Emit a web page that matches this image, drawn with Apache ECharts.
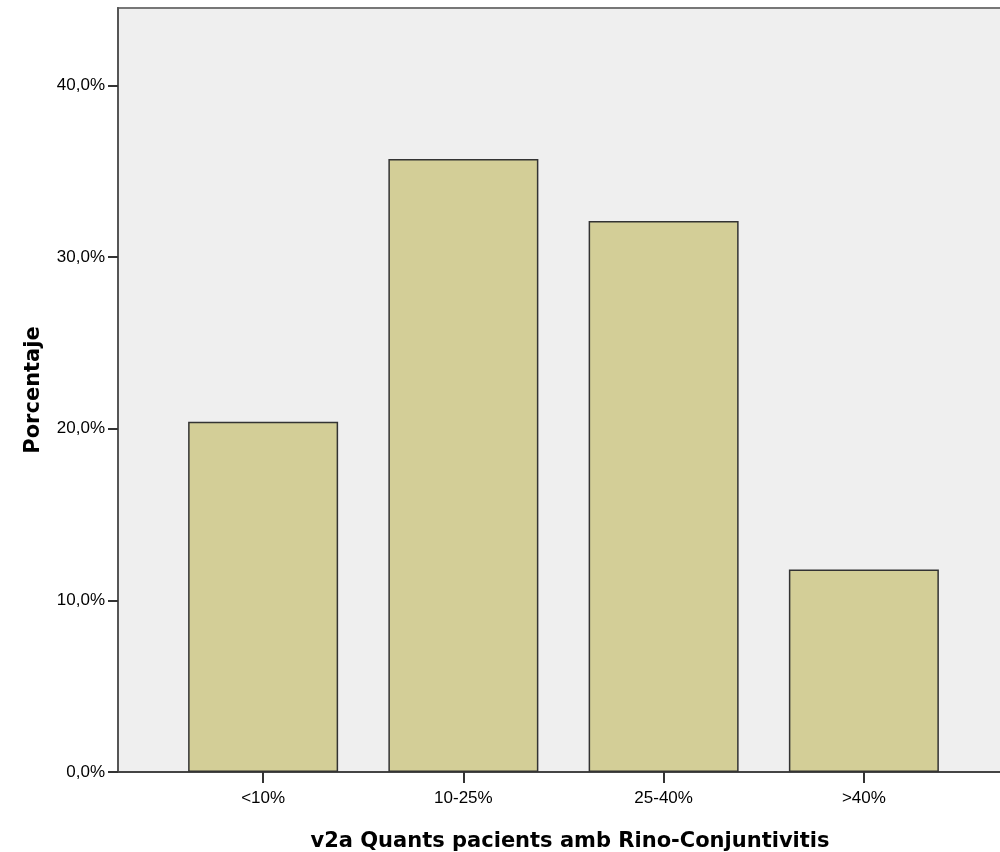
<!DOCTYPE html>
<html>
<head>
<meta charset="utf-8">
<script src="https://cdn.jsdelivr.net/npm/echarts@6/dist/echarts.min.js"></script>
<style>html,body{margin:0;padding:0;background:#fff;}#c{width:1000px;height:852px;}</style>
</head>
<body>
<div id="c"></div>
<script>
const categories = ['<10%', '10-25%', '25-40%', '>40%'];
const percentages = [20.4, 35.7, 32.1, 11.8];
const yTicks = [0, 10, 20, 30, 40];
const xTitle = 'v2a Quants pacients amb Rino-Conjuntivitis';
const yTitle = 'Porcentaje';

const FONT = '"Liberation Sans", Arial, sans-serif';
const TFONT = '"DejaVu Sans", Verdana, sans-serif';
const chart = echarts.init(document.getElementById('c'));
const fmt = v => v.toFixed(1).replace('.', ',') + '%';
chart.setOption({
  animation: false,
  grid: [
    {left: 118, right: -22, top: 8, bottom: 80, outerBoundsMode: 'none', containLabel: false,
     show: true, backgroundColor: '#efefef', borderColor: '#777', borderWidth: 2},
    {left: 163, right: 36, top: 8, bottom: 80, outerBoundsMode: 'none', containLabel: false}
  ],
  xAxis: [
    {gridIndex: 0, type: 'value', min: 0, max: 1,
     axisLine: {show: true, lineStyle: {color: '#444', width: 2}}, axisTick: {show: false}, axisLabel: {show: false}, splitLine: {show: false},
     name: xTitle, nameLocation: 'middle', nameGap: 59,
     nameTextStyle: {fontFamily: TFONT, fontWeight: 'bold', fontSize: 21, color: '#000'}},
    {gridIndex: 1, type: 'category', data: categories,
     axisLine: {show: false}, axisTick: {show: true, alignWithLabel: true, length: 11, lineStyle: {color: '#333', width: 2}},
     axisLabel: {fontFamily: FONT, fontSize: 17, color: '#000', margin: 18}}
  ],
  yAxis: [
    {gridIndex: 0, type: 'value', min: 0, max: 44.5,
     axisLine: {show: true, lineStyle: {color: '#555', width: 2}},
     axisTick: {show: true, length: 10, customValues: yTicks, lineStyle: {color: '#333', width: 2}},
     axisLabel: {customValues: yTicks, formatter: fmt, fontFamily: FONT, fontSize: 17, color: '#000', margin: 13, padding: [9, 0, 0, 0]},
     splitLine: {show: false},
     name: yTitle, nameLocation: 'middle', nameGap: 74, nameRotate: 90,
     nameTextStyle: {fontFamily: TFONT, fontWeight: 'bold', fontSize: 21, color: '#000'}},
    {gridIndex: 1, type: 'value', min: 0, max: 44.5, show: false}
  ],
  series: [{
    type: 'bar', xAxisIndex: 1, yAxisIndex: 1, data: percentages, barWidth: 150,
    itemStyle: {color: '#d3ce97', borderColor: '#333', borderWidth: 1.5}
  }]
});
</script>
</body>
</html>
